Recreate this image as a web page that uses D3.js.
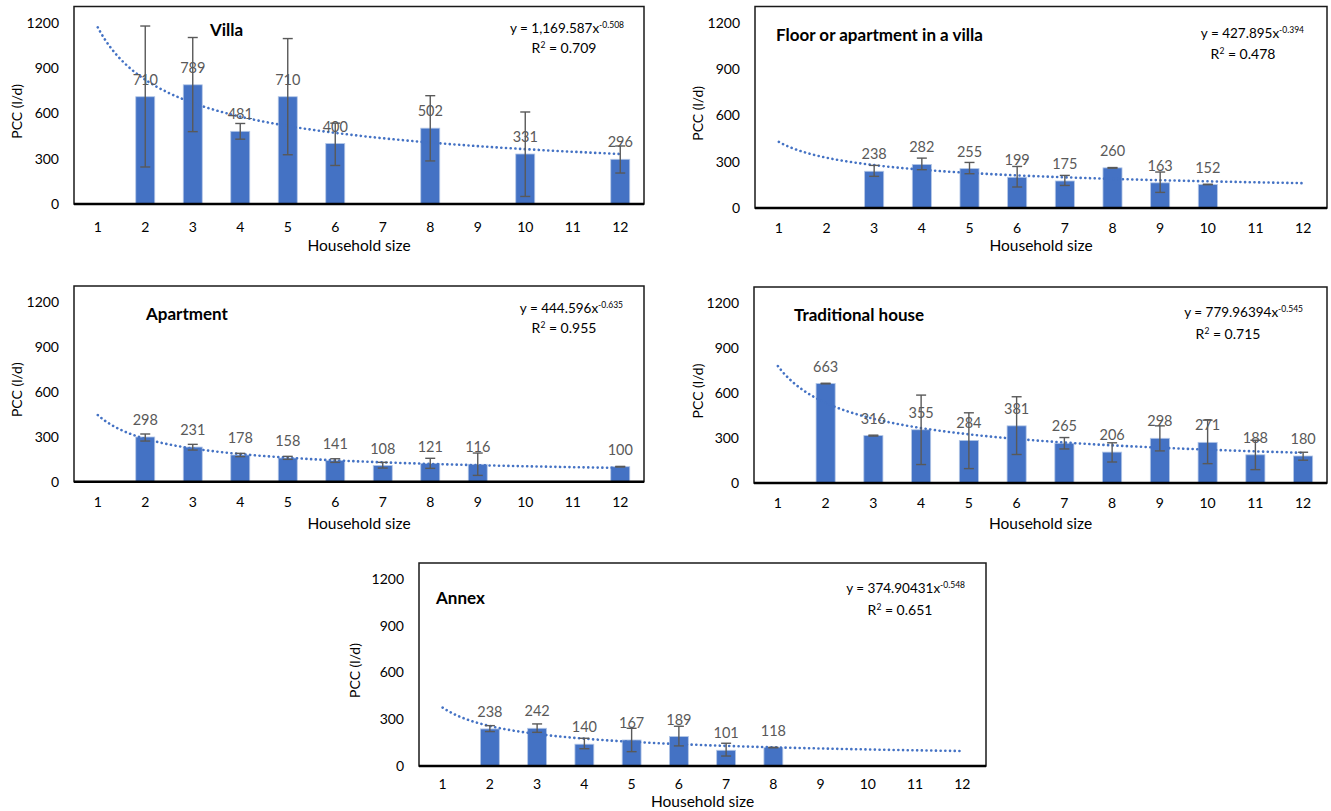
<!DOCTYPE html>
<html>
<head>
<meta charset="utf-8">
<script src="https://cdn.jsdelivr.net/npm/d3@7"></script>
<style>
  body { margin: 0; background: #fff; }
  svg { font-family: Lato, "Open Sans", sans-serif; }
</style>
</head>
<body>
<svg id="chart" width="1331" height="811"></svg>
<script>
const sizes = ['1', '2', '3', '4', '5', '6', '7', '8', '9', '10', '11', '12'];

// mean PCC per household size, null = no bar
const villaVals = [null, 710, 789, 481, 710, 400, null, 502, null, 331, null, 296];
const villaLow  = [null, 245, 479, 429, 326, 255, null, 285, null, 50, null, 205];
const villaHigh = [null, 1178, 1102, 533, 1095, 535, null, 717, null, 609, null, 384];

const floorVals = [null, null, 238, 282, 255, 199, 175, 260, 163, 152, null, null];
const floorLow  = [null, null, 205, 248, 222, 136, 146, 258, 101, 151, null, null];
const floorHigh = [null, null, 276, 323, 295, 269, 211, 262, 233, 154, null, null];

const aptVals = [null, 298, 231, 178, 158, 141, 108, 121, 116, null, null, 100];
const aptLow  = [null, 271, 211, 167, 149, 129, 91, 89, 42, null, null, 98];
const aptHigh = [null, 318, 249, 189, 169, 153, 129, 156, 191, null, null, 102];

const tradVals = [null, 663, 316, 355, 284, 381, 265, 206, 298, 271, 188, 180];
const tradLow  = [null, 661, 313, 123, 96, 190, 227, 140, 214, 129, 89, 152];
const tradHigh = [null, 665, 319, 586, 468, 575, 303, 268, 381, 419, 285, 205];

const annexVals = [null, 238, 242, 140, 167, 189, 101, 118, null, null, null, null];
const annexLow  = [null, 221, 216, 111, 92, 129, 64, 117, null, null, null, null];
const annexHigh = [null, 259, 270, 178, 242, 255, 146, 120, null, null, null, null];

const yTicks = [0, 300, 600, 900, 1200];

const panels = [
  {title: 'Villa', vals: villaVals, low: villaLow, high: villaHigh, a: '1,169.587', b: '-0.508', r2: '0.709', coef: 1169.587, pow: -0.508,
   box: {l: 74, r: 644, t: 6.5, b: 204, y1200: 22.7}, titleX: 210, titleY: 36, eqR: 624, eqY: 33, r2X: 564, r2Y: 53, yLabX: 17, tickY: 232, xTitleY: 251},
  {title: 'Floor or apartment in a villa', vals: floorVals, low: floorLow, high: floorHigh, a: '427.895', b: '-0.394', r2: '0.478', coef: 427.895, pow: -0.394,
   box: {l: 755, r: 1327, t: 6.5, b: 208, y1200: 22.7}, titleX: 776, titleY: 41, eqR: 1304, eqY: 38, r2X: 1243, r2Y: 59, yLabX: 698, tickY: 233, xTitleY: 251},
  {title: 'Apartment', vals: aptVals, low: aptLow, high: aptHigh, a: '444.596', b: '-0.635', r2: '0.955', coef: 444.596, pow: -0.635,
   box: {l: 74, r: 644, t: 286, b: 481.7, y1200: 301.7}, titleX: 146, titleY: 320, eqR: 623, eqY: 313, r2X: 564, r2Y: 333, yLabX: 17, tickY: 507, xTitleY: 529},
  {title: 'Traditional house', vals: tradVals, low: tradLow, high: tradHigh, a: '779.96394', b: '-0.545', r2: '0.715', coef: 779.96394, pow: -0.545,
   box: {l: 754, r: 1327, t: 287, b: 483, y1200: 303}, titleX: 794, titleY: 321, eqR: 1303, eqY: 317, r2X: 1228, r2Y: 339, yLabX: 698, tickY: 508, xTitleY: 529},
  {title: 'Annex', vals: annexVals, low: annexLow, high: annexHigh, a: '374.90431', b: '-0.548', r2: '0.651', coef: 374.90431, pow: -0.548,
   box: {l: 419, r: 986, t: 563, b: 766, y1200: 579}, titleX: 436, titleY: 604, eqR: 965, eqY: 593, r2X: 900, r2Y: 615, yLabX: 355, tickY: 789, xTitleY: 807}
];

const svg = d3.select('#chart');

panels.forEach(p => {
  const g = svg.append('g');
  const bx = p.box;

  const x = d3.scaleBand()
    .domain(sizes)
    .range([bx.l, bx.r])
    .paddingInner(0.6)
    .paddingOuter(0.3);
  const y = d3.scaleLinear().domain([0, 1200]).range([bx.b, bx.y1200]);
  const xc = s => x(s) + x.bandwidth() / 2;

  // frame
  g.append('rect')
    .attr('x', bx.l).attr('y', bx.t)
    .attr('width', bx.r - bx.l).attr('height', bx.b - bx.t)
    .attr('fill', 'none').attr('stroke', '#1a1a1a').attr('stroke-width', 1.5);

  // y tick labels
  g.selectAll('.ytick').data(yTicks).enter().append('text')
    .attr('x', bx.l - 15).attr('y', d => y(d)).attr('dy', '0.35em')
    .attr('text-anchor', 'end').attr('font-size', 14).attr('fill', '#000')
    .text(d => d);

  // y title
  g.append('text')
    .attr('transform', `translate(${p.yLabX},${(bx.y1200 + bx.b) / 2 - 2}) rotate(-90)`)
    .attr('dy', '0.35em').attr('text-anchor', 'middle').attr('font-size', 14)
    .text('PCC (l/d)');

  // x tick labels
  g.selectAll('.xtick').data(sizes).enter().append('text')
    .attr('x', d => xc(d)).attr('y', p.tickY)
    .attr('text-anchor', 'middle').attr('font-size', 14).attr('fill', '#000')
    .text(d => d);

  g.append('text')
    .attr('x', (bx.l + bx.r) / 2).attr('y', p.xTitleY)
    .attr('text-anchor', 'middle').attr('font-size', 15.5)
    .text('Household size');

  const rows = sizes.map((s, i) => ({s, v: p.vals[i], lo: p.low[i], hi: p.high[i]}))
    .filter(d => d.v !== null);

  // bars
  g.selectAll('.bar').data(rows).enter().append('rect')
    .attr('x', d => x(d.s)).attr('width', x.bandwidth())
    .attr('y', d => y(d.v)).attr('height', d => y(0) - y(d.v))
    .attr('fill', '#4472C4').attr('stroke', '#b4c7e7').attr('stroke-width', 0.8);

  // trend line
  const pts = d3.range(1, 12.001, 0.05).map(k => [k, p.coef * Math.pow(k, p.pow)]);
  const kx = d3.scaleLinear().domain([1, 12]).range([xc('1'), xc('12')]);
  g.append('path')
    .attr('d', d3.line().x(d => kx(d[0])).y(d => y(d[1]))(pts))
    .attr('fill', 'none').attr('stroke', '#4472C4').attr('stroke-width', 2.6)
    .attr('stroke-linecap', 'round').attr('stroke-dasharray', '0.1 4.6');

  // error bars
  const eb = g.selectAll('.err').data(rows).enter().append('g')
    .attr('stroke', '#595959').attr('stroke-width', 1.4);
  eb.append('line').attr('x1', d => xc(d.s)).attr('x2', d => xc(d.s))
    .attr('y1', d => y(d.lo)).attr('y2', d => y(d.hi));
  eb.append('line').attr('x1', d => xc(d.s) - 5).attr('x2', d => xc(d.s) + 5)
    .attr('y1', d => y(d.lo)).attr('y2', d => y(d.lo));
  eb.append('line').attr('x1', d => xc(d.s) - 5).attr('x2', d => xc(d.s) + 5)
    .attr('y1', d => y(d.hi)).attr('y2', d => y(d.hi));

  // value labels
  g.selectAll('.val').data(rows).enter().append('text')
    .attr('x', d => xc(d.s)).attr('y', d => y(d.v) - 12)
    .attr('text-anchor', 'middle').attr('font-size', 14.5).attr('fill', '#595959')
    .text(d => d.v);

  // bottom axis line
  g.append('line')
    .attr('x1', bx.l).attr('x2', bx.r).attr('y1', y(0)).attr('y2', y(0))
    .attr('stroke', '#000').attr('stroke-width', 2.6);

  // title
  g.append('text')
    .attr('x', p.titleX).attr('y', p.titleY)
    .attr('font-size', 17).attr('font-weight', 'bold')
    .text(p.title);

  // equation
  const eq = g.append('text')
    .attr('x', p.eqR).attr('y', p.eqY)
    .attr('text-anchor', 'end').attr('font-size', 13.5);
  eq.append('tspan').text(`y = ${p.a}x`);
  eq.append('tspan').attr('font-size', 8.5).attr('dy', -5).text(p.b);

  const r2 = g.append('text')
    .attr('x', p.r2X).attr('y', p.r2Y)
    .attr('text-anchor', 'middle').attr('font-size', 14);
  r2.append('tspan').text('R');
  r2.append('tspan').attr('font-size', 8.5).attr('dy', -5).text('2');
  r2.append('tspan').attr('dy', 5).text(' = ' + p.r2);
});
</script>
</body>
</html>
